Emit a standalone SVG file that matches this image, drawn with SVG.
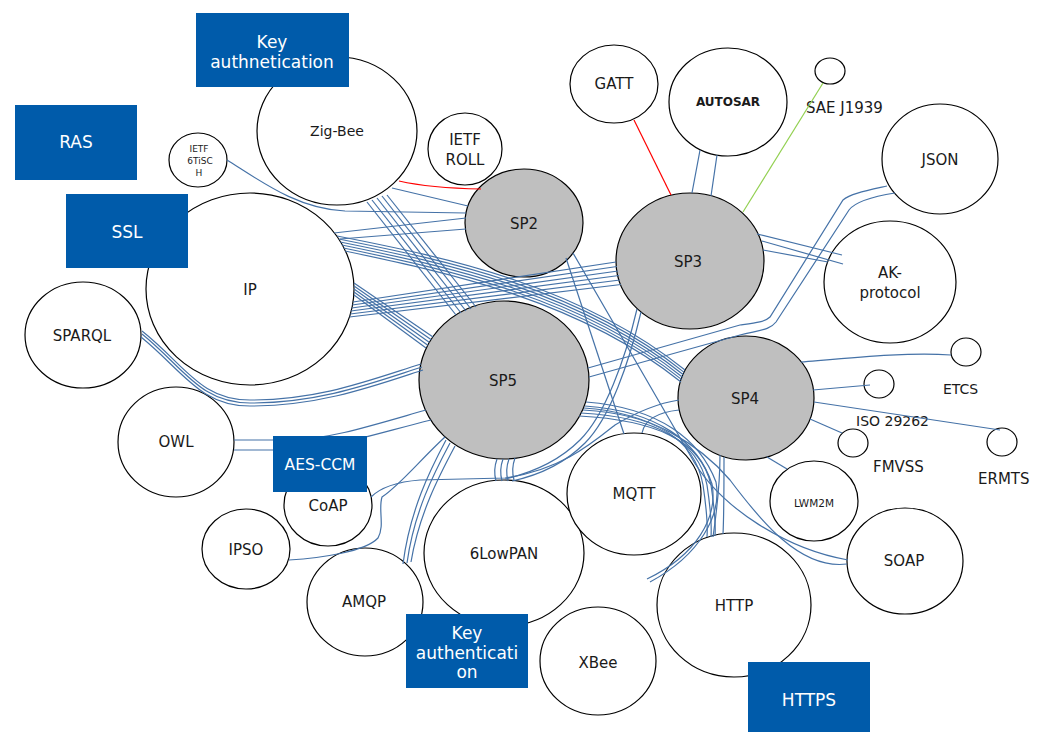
<svg xmlns="http://www.w3.org/2000/svg" width="1045" height="733" viewBox="0 0 1045 733">
<style>
.n ellipse{fill:#fff;stroke:#000;stroke-width:1.2}
.g ellipse{fill:#BFBFBF;stroke:#000;stroke-width:1.2}
text{font-family:"DejaVu Sans",Verdana,sans-serif;font-size:15px;fill:#1a1a1a;text-anchor:middle;dominant-baseline:central}
.s{text-anchor:start}
.b rect{fill:#005BAA}
.b text{fill:#fff;font-size:17px}
#connectors path{fill:none;stroke:#4572A7;stroke-width:1.2}
#connectors path.red{stroke:#FF0000}
#connectors path.grn{stroke:#92D050}
</style>
<rect width="1045" height="733" fill="#fff"/>

<g id="zigbee" class="n"><ellipse cx="337" cy="131" rx="80" ry="74"/><text x="337" y="131" style="font-size:14px">Zig-Bee</text></g>
<g id="ietf-roll" class="n"><ellipse cx="465" cy="149" rx="37" ry="36"/><text x="465" y="140">IETF</text><text x="465" y="160">ROLL</text></g>
<g id="ietf-6tisch" class="n"><ellipse cx="198" cy="160" rx="29" ry="27"/><text x="199" y="149" style="font-size:9px">IETF</text><text x="200" y="161" style="font-size:9px">6TiSC</text><text x="199" y="173" style="font-size:9px">H</text></g>
<g id="ip" class="n"><ellipse cx="250" cy="289" rx="104" ry="96"/><text x="250" y="290">IP</text></g>
<g id="sparql" class="n"><ellipse cx="83" cy="335" rx="58" ry="53"/><text x="82" y="336">SPARQL</text></g>
<g id="owl" class="n"><ellipse cx="176" cy="442" rx="58" ry="55"/><text x="176" y="442">OWL</text></g>
<g id="coap" class="n"><ellipse cx="328" cy="505" rx="44" ry="41"/><text x="328" y="506">CoAP</text></g>
<g id="ipso" class="n"><ellipse cx="246" cy="549" rx="44" ry="40"/><text x="246" y="550">IPSO</text></g>
<g id="amqp" class="n"><ellipse cx="365" cy="602" rx="58" ry="54"/><text x="364" y="602">AMQP</text></g>
<g id="sixlowpan" class="n"><ellipse cx="504" cy="553" rx="80" ry="73"/><text x="504" y="554">6LowPAN</text></g>
<g id="xbee" class="n"><ellipse cx="598" cy="661" rx="58" ry="54"/><text x="598" y="663">XBee</text></g>
<g id="mqtt" class="n"><ellipse cx="634" cy="494" rx="67" ry="61"/><text x="634" y="494">MQTT</text></g>
<g id="http" class="n"><ellipse cx="734" cy="605" rx="77" ry="72"/><text x="734" y="606">HTTP</text></g>
<g id="lwm2m" class="n"><ellipse cx="814" cy="501" rx="44" ry="40"/><text x="814" y="502.5" style="font-size:10.5px">LWM2M</text></g>
<g id="soap" class="n"><ellipse cx="905" cy="561" rx="58" ry="53"/><text x="904" y="561">SOAP</text></g>
<g id="gatt" class="n"><ellipse cx="614" cy="84" rx="44" ry="39"/><text x="614" y="84">GATT</text></g>
<g id="autosar" class="n"><ellipse cx="728" cy="102" rx="59" ry="54"/><text x="728" y="102" style="font-size:12px;font-weight:bold">AUTOSAR</text></g>
<g id="sae-j1939" class="n"><ellipse cx="830" cy="71" rx="15" ry="13"/><text class="s" x="806" y="107.5">SAE J1939</text></g>
<g id="json" class="n"><ellipse cx="940" cy="159" rx="58" ry="55"/><text x="940" y="160">JSON</text></g>
<g id="ak-protocol" class="n"><ellipse cx="890" cy="282" rx="66" ry="61"/><text x="890" y="272.5">AK-</text><text x="890" y="293">protocol</text></g>
<g id="etcs" class="n"><ellipse cx="966" cy="352" rx="15" ry="14"/><text class="s" x="943" y="388.5" style="font-size:14px">ETCS</text></g>
<g id="iso29262" class="n"><ellipse cx="879" cy="384" rx="15" ry="14"/><text class="s" x="856" y="420.5" style="font-size:14px">ISO 29262</text></g>
<g id="fmvss" class="n"><ellipse cx="853" cy="443" rx="15" ry="14"/><text class="s" x="873" y="466.5">FMVSS</text></g>
<g id="ermts" class="n"><ellipse cx="1002" cy="442" rx="15" ry="14"/><text class="s" x="978" y="478.5">ERMTS</text></g>

<g id="sp2" class="g"><ellipse cx="524" cy="223" rx="59" ry="54"/><text x="524" y="224">SP2</text></g>
<g id="sp3" class="g"><ellipse cx="690" cy="261" rx="74" ry="68"/><text x="688" y="262">SP3</text></g>
<g id="sp5" class="g"><ellipse cx="504" cy="380" rx="85" ry="79"/><text x="503" y="381">SP5</text></g>
<g id="sp4" class="g"><ellipse cx="746" cy="398" rx="68" ry="62"/><text x="745" y="398.5">SP4</text></g>

<g id="connectors">
<path d="M227,160 C262,182 298,209 345,211 L466,213"/>
<path d="M392,188 L468,206"/>
<path class="red" d="M399,181 Q430,188 481,189"/>
<path d="M367,202 L456,315"/>
<path d="M372,200 L461,313"/>
<path d="M377,198 L466,311"/>
<path d="M382,196 L471,309"/>
<path d="M387,195 L476,307"/>
<path d="M334,233 L466,218"/>
<path d="M340,239 L466,229"/>
<path d="M337,236 C450,258 580,286 685,370"/>
<path d="M338.6,239 C450,261 580,289 684.2,372.4"/>
<path d="M340.2,242 C450,264 580,292 683.4,374.8"/>
<path d="M341.8,245 C450,267 580,295 682.6,377.2"/>
<path d="M343.4,248 C450,270 580,298 681.8,379.6"/>
<path d="M345,251 C450,273 580,301 681,382"/>
<path d="M353,302 L616,262"/>
<path d="M352.3,305 L617,266.5"/>
<path d="M351.6,308 L618,271"/>
<path d="M350.9,311 L619,275.5"/>
<path d="M350.2,314 L620,280"/>
<path d="M349.5,317 L621,284.5"/>
<path d="M354,283 L433,337"/>
<path d="M354,286 L431.3,339.8"/>
<path d="M354,289 L429.5,342.5"/>
<path d="M354,292 L427.8,345.3"/>
<path d="M354,295 L426,348"/>
<path d="M142,331 C185,365 200,400 250,400 C320,400 370,380 421,364"/>
<path d="M142,334 C184,368 200,403 250,403 C320,403 372,383 422,367"/>
<path d="M141,337 C183,371 200,406 250,406 C320,406 374,386 423,370"/>
<path d="M234,440 L290,440 C330,439 370,426 426,410"/>
<path d="M234,450 L290,450 C330,449 375,434 431,420"/>
<path class="red" d="M634,120 L671,195"/>
<path d="M700,150 L692,193"/>
<path d="M717,155 L711,196"/>
<path class="grn" d="M823,83 L743,212"/>
<path d="M887,186 C865,191 850,194 843,200 L770,317 C765,322 755,323 740,325 L588,368"/>
<path d="M895,193 C870,197 855,202 849,210 L776,322 C770,330 760,330 740,335 L589,377"/>
<path d="M757,234 L842,255"/>
<path d="M762,241 L843,264"/>
<path d="M763,250 L828,262"/>
<path d="M801,362 C860,357 910,352 951,355"/>
<path d="M813,390 L870,385"/>
<path d="M814,402 L1000,430"/>
<path d="M810,419 L842,433"/>
<path d="M767,457 L787,469"/>
<path d="M497,459 Q493,470 496,481"/>
<path d="M503,459 Q499,470 502,481"/>
<path d="M509,459 Q505,470 508,481"/>
<path d="M515,458 Q511,469 514,480"/>
<path d="M446,440 C430,470 410,510 403,564"/>
<path d="M450,443 C434,473 414,512 407,563"/>
<path d="M455,446 C439,476 419,514 411,562"/>
<path d="M445,437 C420,460 400,485 382,497 C378,510 385,525 378,538 C365,552 320,558 289,560"/>
<path d="M371,497 C380,488 395,482 420,480 L505,478 C560,470 590,445 615,425 C640,410 660,403 679,400"/>
<path d="M637,309 C625,360 605,415 580,440 C560,460 535,472 505,479"/>
<path d="M641,312 C629,363 610,418 585,443 C565,463 540,475 512,481"/>
<path d="M566,258 L624,434"/>
<path d="M573,253 L690,455 C720,510 790,550 848,560"/>
<path d="M583,410 C655,414 695,440 703,485 C706,505 708,522 707,537"/>
<path d="M581,413 C655,417 698,440 707,485 C710,505 712,522 711,537"/>
<path d="M579,416 C655,420 701,440 711,485 C714,505 716,522 715,536"/>
<path d="M586,402 C660,408 700,440 716,482 C722,515 700,555 650,582"/>
<path d="M585,406 C658,411 698,442 712,484 C718,517 697,555 647,579"/>
<path d="M584,408 C650,412 700,445 730,480 C760,520 800,570 847,564"/>
<path d="M720,455 C720,490 716,515 713,537"/>
<path d="M724,457 C724,490 724,515 723,534"/>
<path d="M642,433 C645,418 660,412 679,410"/>
</g>

<g id="box-key-top" class="b"><rect x="196" y="13" width="153" height="74"/><text x="272" y="42">Key</text><text x="272" y="62">authnetication</text></g>
<g id="box-ras" class="b"><rect x="15" y="105" width="122" height="75"/><text x="76" y="142">RAS</text></g>
<g id="box-ssl" class="b"><rect x="66" y="194" width="122" height="74"/><text x="127" y="232">SSL</text></g>
<g id="box-aes-ccm" class="b"><rect x="273" y="436" width="94" height="56"/><text x="320" y="465" style="font-size:15.5px">AES-CCM</text></g>
<g id="box-key-bottom" class="b"><rect x="406" y="614" width="122" height="74"/><text x="467" y="633">Key</text><text x="467" y="653">authenticati</text><text x="467" y="672">on</text></g>
<g id="box-https" class="b"><rect x="748" y="662" width="122" height="70"/><text x="809" y="700">HTTPS</text></g>
</svg>
